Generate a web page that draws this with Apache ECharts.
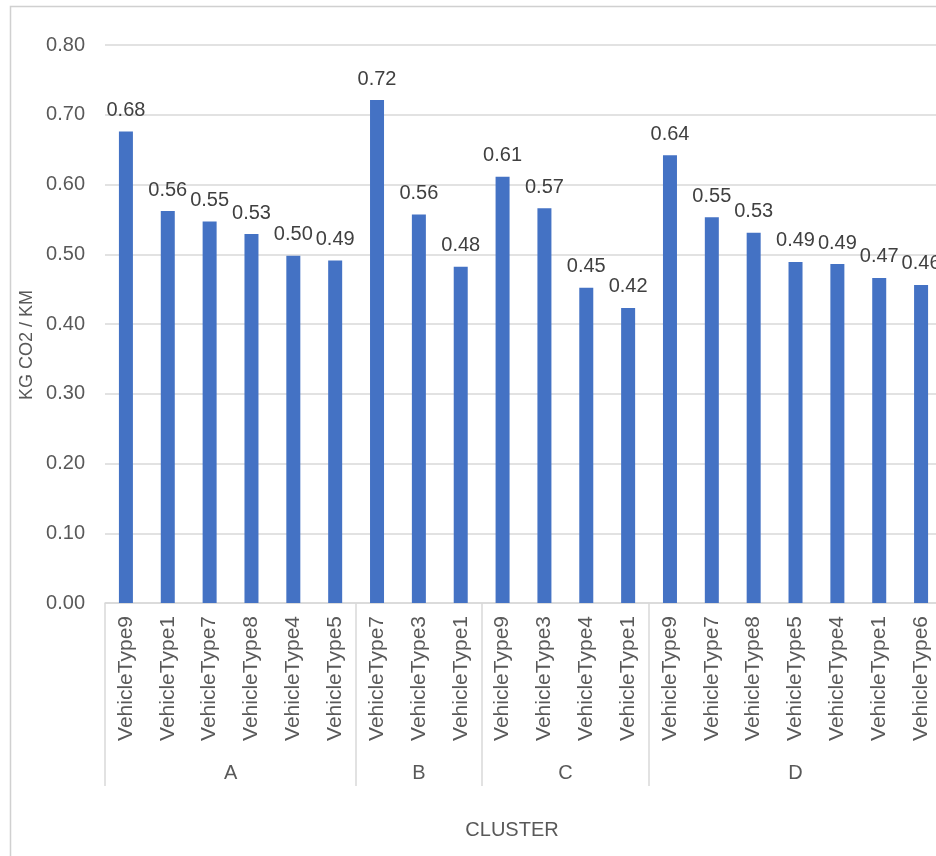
<!DOCTYPE html>
<html>
<head>
<meta charset="utf-8">
<script src="https://cdn.jsdelivr.net/npm/echarts@6/dist/echarts.min.js"></script>
<style>
  html, body { margin: 0; padding: 0; background: #ffffff; }
  #chart { width: 936px; height: 856px; }
</style>
</head>
<body>
<div id="chart"></div>
<script>
// Vehicle types in plotting order, grouped by cluster
const categories = [
  'VehicleType9', 'VehicleType1', 'VehicleType7', 'VehicleType8', 'VehicleType4', 'VehicleType5',
  'VehicleType7', 'VehicleType3', 'VehicleType1',
  'VehicleType9', 'VehicleType3', 'VehicleType4', 'VehicleType1',
  'VehicleType9', 'VehicleType7', 'VehicleType8', 'VehicleType5', 'VehicleType4', 'VehicleType1', 'VehicleType6'
];
const clusters = ['A', 'B', 'C', 'D'];
const clusterSizes = [6, 3, 4, 7];

// Emissions, kg CO2 per km
const emissions = [
  0.676, 0.562, 0.547, 0.529, 0.498, 0.491,
  0.721, 0.557, 0.482,
  0.611, 0.566, 0.452, 0.423,
  0.642, 0.553, 0.531, 0.489, 0.486, 0.466, 0.456
];

const yMin = 0, yMax = 0.8, yStep = 0.1;

const FONT = '"Liberation Sans", Arial, sans-serif';
const AXIS_TEXT = '#595959';
const GRID_LINE = '#d9d9d9';

// Group boundaries (start index of each cluster) and cluster centres in band units
const groupStarts = [];
const groupCentres = {};
let acc = 0;
clusterSizes.forEach((n, i) => {
  groupStarts.push(acc);
  groupCentres[(acc + n / 2).toFixed(2)] = clusters[i];
  acc += n;
});

const chart = echarts.init(document.getElementById('chart'), null, { renderer: 'canvas' });

chart.setOption({
  backgroundColor: '#ffffff',
  animation: false,
  textStyle: { fontFamily: FONT },
  grid: {
    left: 105, top: 45, width: 837, height: 558,
    containLabel: false,
    outerBoundsMode: 'none'
  },
  xAxis: [
    {
      type: 'category',
      data: categories,
      axisLine: { show: true, lineStyle: { color: GRID_LINE, width: 1.5 } },
      axisTick: {
        show: true,
        interval: (index) => groupStarts.indexOf(index) !== -1,
        length: 183,
        lineStyle: { color: GRID_LINE, width: 1.5 }
      },
      axisLabel: {
        interval: 0,
        rotate: 90,
        margin: 13,
        fontSize: 21,
        color: AXIS_TEXT,
        fontFamily: FONT
      },
      splitLine: { show: false }
    },
    {
      // cluster level of the category axis
      type: 'value',
      position: 'bottom',
      min: 0,
      max: categories.length,
      interval: 0.5,
      axisLine: { show: false },
      axisTick: { show: false },
      splitLine: { show: false },
      axisLabel: {
        margin: 160,
        fontSize: 20,
        color: AXIS_TEXT,
        fontFamily: FONT,
        showMinLabel: true,
        showMaxLabel: true,
        formatter: (v) => groupCentres[v.toFixed(2)] || ''
      }
    }
  ],
  yAxis: {
    type: 'value',
    min: yMin,
    max: yMax,
    interval: yStep,
    axisLine: { show: false },
    axisTick: { show: false },
    splitLine: { show: true, lineStyle: { color: GRID_LINE, width: 1.5 } },
    axisLabel: {
      margin: 20,
      fontSize: 20,
      color: AXIS_TEXT,
      fontFamily: FONT,
      formatter: (v) => v.toFixed(2)
    }
  },
  series: [
    {
      type: 'bar',
      xAxisIndex: 0,
      data: emissions,
      barWidth: 14,
      itemStyle: { color: '#4472C4' },
      label: {
        show: true,
        position: 'top',
        distance: 11,
        fontSize: 20,
        color: '#404040',
        fontFamily: FONT,
        formatter: (p) => p.value.toFixed(2)
      }
    }
  ],
  graphic: [
    {
      type: 'rect',
      left: 8,
      top: 4,
      shape: { x: 0, y: 0, width: 1000, height: 1000 },
      style: { fill: 'none', stroke: '#d0d0d0', lineWidth: 1.5 },
      silent: true,
      z: -1
    },
    {
      type: 'text',
      x: 27,
      y: 345,
      rotation: Math.PI / 2,
      style: {
        text: 'KG CO2 / KM',
        fontSize: 18,
        fontFamily: FONT,
        fill: AXIS_TEXT,
        textAlign: 'center',
        textVerticalAlign: 'middle'
      }
    },
    {
      type: 'text',
      x: 512,
      y: 830,
      style: {
        text: 'CLUSTER',
        fontSize: 20,
        fontFamily: FONT,
        fill: AXIS_TEXT,
        textAlign: 'center',
        textVerticalAlign: 'middle'
      }
    }
  ]
});
</script>
</body>
</html>
